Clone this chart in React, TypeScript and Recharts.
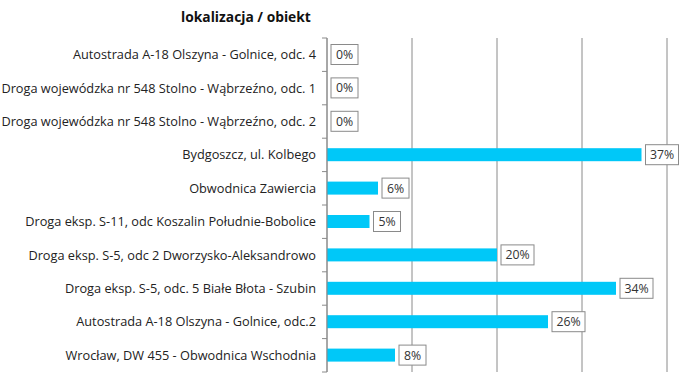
import React from 'react';
import { BarChart, Bar, XAxis, YAxis, CartesianGrid } from 'recharts';

const categories = [
  'Autostrada A-18 Olszyna - Golnice, odc. 4',
  'Droga wojewódzka nr 548 Stolno - Wąbrzeźno, odc. 1',
  'Droga wojewódzka nr 548 Stolno - Wąbrzeźno, odc. 2',
  'Bydgoszcz, ul. Kolbego',
  'Obwodnica Zawiercia',
  'Droga eksp. S-11, odc Koszalin Południe-Bobolice',
  'Droga eksp. S-5, odc 2 Dworzysko-Aleksandrowo',
  'Droga eksp. S-5, odc. 5 Białe Błota - Szubin',
  'Autostrada A-18 Olszyna - Golnice, odc.2',
  'Wrocław, DW 455 - Obwodnica Wschodnia',
];
const values = [0, 0, 0, 37, 6, 5, 20, 34, 26, 8];
const xTicks = [0, 10, 20, 30, 40];

const data = categories.map((name, i) => ({ name, value: values[i] }));

const W = 684;
const H = 377;
const TOP = 38;
const BOTTOM = 5;
const FONT = "'Open Sans', sans-serif";
const GRAY = '#8a8a8a';
const band = (H - TOP - BOTTOM) / categories.length;

const CatTick = (props: any) => {
  const { x, y, payload, index } = props;
  const last = index === categories.length - 1;
  return (
    <g>
      <line x1={x - 5} x2={x} y1={y - band / 2} y2={y - band / 2} stroke={GRAY} />
      {last && <line x1={x - 5} x2={x} y1={y + band / 2} y2={y + band / 2} stroke={GRAY} />}
      <text x={x - 11} y={y} dy="0.35em" textAnchor="end" fontSize={12.75} fill="#222" fontFamily={FONT}>
        {payload.value}
      </text>
    </g>
  );
};

const BarWithLabel = (props: any) => {
  const { x, y, width, height, fill, value } = props;
  const v = Array.isArray(value) ? value[1] - value[0] : value;
  const w = Math.max(0, width || 0);
  const txt = `${v}%`;
  const bw = txt.length === 2 ? 27 : 33;
  const bh = 20;
  const bx = x + w + 4;
  const by = y + height / 2 - bh / 2;
  return (
    <g>
      {w > 0 && <rect x={x} y={y} width={w} height={height} fill={fill} />}
      <rect x={bx} y={by} width={bw} height={bh} fill="#fff" stroke={GRAY} strokeWidth={1} />
      <text x={bx + bw / 2} y={by + bh / 2} dy="0.36em" textAnchor="middle" fontSize={12.3} fill="#333" fontFamily={FONT}>
        {txt}
      </text>
    </g>
  );
};

export default function App() {
  return (
    <div style={{ position: 'absolute', left: 0, top: 0, width: W, height: H, background: '#fff' }}>
      <div
        style={{
          position: 'absolute',
          left: 181,
          top: 7,
          fontFamily: FONT,
          fontWeight: 700,
          fontSize: 13.8,
          color: '#111',
          whiteSpace: 'nowrap',
        }}
      >
        lokalizacja / obiekt
      </div>
      <BarChart
        width={W}
        height={H}
        data={data}
        layout="vertical"
        margin={{ top: TOP, right: 17, bottom: BOTTOM, left: 0 }}
        barCategoryGap={0}
      >
        <CartesianGrid horizontal={false} vertical={true} stroke={GRAY} strokeDasharray="" />
        <XAxis type="number" domain={[0, 40]} ticks={xTicks} hide />
        <YAxis
          type="category"
          dataKey="name"
          width={327}
          axisLine={{ stroke: GRAY }}
          tickLine={false}
          tickSize={0}
          tickMargin={0}
          tick={<CatTick />}
          interval={0}
        />
        <Bar
          dataKey="value"
          fill="#00c8f8"
          barSize={13}
          isAnimationActive={false}
          shape={<BarWithLabel />}
        />
      </BarChart>
    </div>
  );
}
